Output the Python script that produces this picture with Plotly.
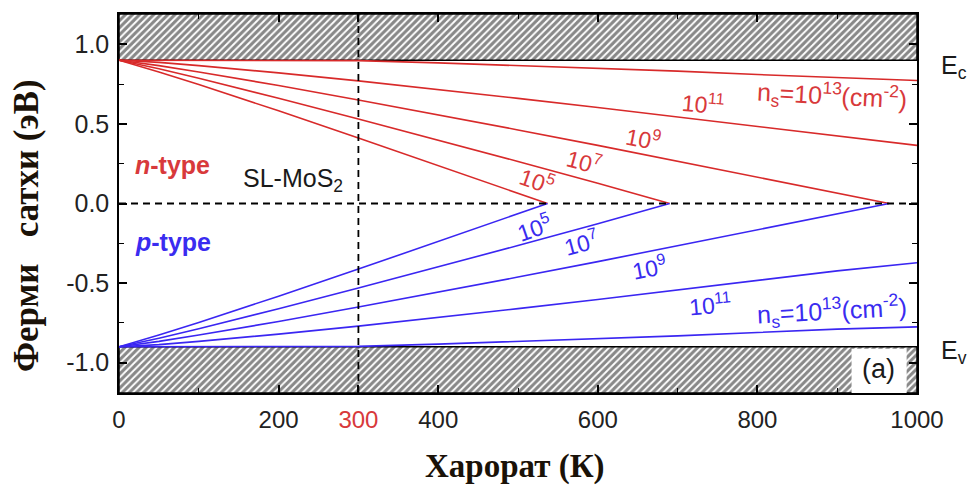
import plotly.graph_objects as go

# ---------------- data ----------------
T_n5 = [0, 50, 100, 150, 200, 300, 400, 500, 537]
E_n5 = [0.9, 0.826, 0.747, 0.665, 0.582, 0.412, 0.24, 0.065, 0.0]
T_n7 = [0, 50, 100, 150, 200, 300, 400, 500, 600, 690]
E_n7 = [0.9, 0.846, 0.787, 0.725, 0.661, 0.531, 0.399, 0.264, 0.127, 0.0]
T_n9 = [0, 50, 100, 150, 200, 300, 400, 500, 600, 700, 800, 900, 965]
E_n9 = [0.9, 0.866, 0.826, 0.784, 0.741, 0.65, 0.557, 0.462, 0.365, 0.266, 0.167, 0.066, 0.0]
T_full = [0, 50, 100, 150, 200, 300, 400, 500, 600, 700, 800, 900, 1000]
E_n11 = [0.9, 0.886, 0.866, 0.844, 0.82, 0.77, 0.716, 0.66, 0.603, 0.544, 0.484, 0.423, 0.365]
E_n13 = [0.9, 0.9, 0.9, 0.9, 0.9, 0.897, 0.883, 0.867, 0.85, 0.831, 0.81, 0.789, 0.772]

T_p5 = [0, 50, 100, 150, 200, 300, 400, 500, 537]
E_p5 = [-0.9, -0.826, -0.747, -0.665, -0.582, -0.412, -0.24, -0.065, 0.0]
T_p7 = [0, 50, 100, 150, 200, 300, 400, 500, 600, 690]
E_p7 = [-0.9, -0.846, -0.787, -0.725, -0.661, -0.531, -0.399, -0.264, -0.127, 0.0]
T_p9 = [0, 50, 100, 150, 200, 300, 400, 500, 600, 700, 800, 900, 965]
E_p9 = [-0.9, -0.866, -0.826, -0.784, -0.741, -0.65, -0.557, -0.462, -0.365, -0.266, -0.167, -0.066, 0.0]
E_p11 = [-0.9, -0.886, -0.866, -0.844, -0.82, -0.77, -0.716, -0.66, -0.603, -0.544, -0.484, -0.423, -0.372]
E_p13 = [-0.9, -0.9, -0.9, -0.9, -0.9, -0.897, -0.883, -0.867, -0.85, -0.831, -0.81, -0.789, -0.775]

Ec = 0.9
Ev = -0.9
T_room = 300

x_tickvals = [0, 200, 300, 400, 600, 800, 1000]
x_ticktext = ["0", "200", "<span style='color:#d8393b'>300</span>", "400", "600", "800", "1000"]
y_tickvals = [1.0, 0.5, 0.0, -0.5, -1.0]
y_ticktext = ["1.0", "0.5", "0.0", "-0.5", "-1.0"]

XMIN, XMAX = 0, 1000
YMIN, YMAX = -1.19, 1.19

RED = "#d82a2a"
RED_T = "#d8393b"
BLUE = "#3a26f2"
BLUE_T = "#3a2cf0"
SANS = "Arial, Liberation Sans"
SERIF = "Liberation Serif, Times New Roman"

fig = go.Figure()

hatch = dict(shape="/", fgcolor="#111111", bgcolor="white", size=5, solidity=0.62)
# conduction band (hatched)
fig.add_trace(go.Scatter(x=[XMIN, XMAX, XMAX, XMIN, XMIN], y=[Ec, Ec, YMAX, YMAX, Ec],
                         fill="toself", fillpattern=hatch, fillcolor="white",
                         line=dict(color="black", width=1.5), mode="lines",
                         hoverinfo="skip", showlegend=False))
# valence band (hatched)
fig.add_trace(go.Scatter(x=[XMIN, XMAX, XMAX, XMIN, XMIN], y=[Ev, Ev, YMIN, YMIN, Ev],
                         fill="toself", fillpattern=hatch, fillcolor="white",
                         line=dict(color="black", width=1.5), mode="lines",
                         hoverinfo="skip", showlegend=False))

for tx, ey in [(T_n5, E_n5), (T_n7, E_n7), (T_n9, E_n9), (T_full, E_n11), (T_full, E_n13)]:
    fig.add_trace(go.Scatter(x=tx, y=ey, mode="lines", line=dict(color=RED, width=1.6),
                             showlegend=False, hoverinfo="skip"))
for tx, ey in [(T_p5, E_p5), (T_p7, E_p7), (T_p9, E_p9), (T_full, E_p11), (T_full, E_p13)]:
    fig.add_trace(go.Scatter(x=tx, y=ey, mode="lines", line=dict(color=BLUE, width=1.6),
                             showlegend=False, hoverinfo="skip"))

# dashed reference lines
fig.add_shape(type="line", x0=XMIN, x1=XMAX, y0=0, y1=0, xref="x", yref="y",
              line=dict(color="black", width=1.8, dash="7px,5px"), layer="above")
fig.add_shape(type="line", x0=T_room, x1=T_room, y0=YMIN, y1=YMAX, xref="x", yref="y",
              line=dict(color="black", width=1.8, dash="7px,5px"), layer="above")
# white box for (a)
fig.add_shape(type="rect", x0=918, x1=987, y0=YMIN, y1=Ev - 0.012, xref="x", yref="y",
              fillcolor="white", line=dict(width=0), layer="above")

ann = []
def A(x, y, text, color, size=20, angle=0, xanchor="center", **kw):
    d = dict(x=x, y=y, xref="x", yref="y", text=text, showarrow=False, textangle=angle,
             font=dict(family=SANS, size=size, color=color), xanchor=xanchor)
    d.update(kw)
    ann.append(d)

A(18, 0.24, "<b><i>n</i>-type</b>", RED_T, 25, xanchor="left")
A(18, -0.24, "<b><i>p</i>-type</b>", BLUE_T, 25, xanchor="left")
A(218, 0.15, "SL-MoS<sub>2</sub>", "#1a1a1a", 25)

A(524, 0.15, "10<sup>5</sup>", RED_T, 23, 19)
A(583, 0.27, "10<sup>7</sup>", RED_T, 23, 15)
A(657, 0.41, "10<sup>9</sup>", RED_T, 23, 11)
A(732, 0.63, "10<sup>11</sup>", RED_T, 23, 5)
A(893, 0.675, "n<sub>s</sub>=10<sup>13</sup>(cm<sup>-2</sup>)", RED_T, 25, 3)

A(521, -0.15, "10<sup>5</sup>", BLUE_T, 23, -19)
A(580, -0.244, "10<sup>7</sup>", BLUE_T, 23, -15)
A(665, -0.40, "10<sup>9</sup>", BLUE_T, 23, -11)
A(741, -0.63, "10<sup>11</sup>", BLUE_T, 23, -5)
A(893, -0.675, "n<sub>s</sub>=10<sup>13</sup>(cm<sup>-2</sup>)", BLUE_T, 25, -3)

A(952, -1.04, "(a)", "#1a1a1a", 27)

# band labels on the right
ann.append(dict(x=1.027, y=0.86, xref="paper", yref="y", text="E<sub>c</sub>", showarrow=False,
                xanchor="left", font=dict(family=SANS, size=25, color="#1a1a1a")))
ann.append(dict(x=1.027, y=-0.93, xref="paper", yref="y", text="E<sub>v</sub>", showarrow=False,
                xanchor="left", font=dict(family=SANS, size=25, color="#1a1a1a")))

# axis titles
ann.append(dict(x=0.496, y=-0.193, xref="paper", yref="paper", text="<b>Харорат (К)</b>",
                showarrow=False, xanchor="center", yanchor="middle",
                font=dict(family=SERIF, size=33, color="#1a1208")))
ann.append(dict(x=-0.115, y=0.441, xref="paper", yref="paper", text="<b>Ферми   сатхи (эВ)</b>",
                showarrow=False, textangle=-90, xanchor="center", yanchor="middle",
                font=dict(family=SERIF, size=35, color="#1a1208")))

fig.update_layout(
    width=972, height=486,
    margin=dict(l=119, r=55, t=14, b=93),
    paper_bgcolor="white", plot_bgcolor="white",
    annotations=ann, showlegend=False,
)
fig.update_xaxes(range=[XMIN, XMAX], tickvals=x_tickvals, ticktext=x_ticktext,
                 ticks="inside", ticklen=8, tickwidth=1.5, tickcolor="black",
                 minor=dict(dtick=100, ticks="inside", ticklen=5, tickcolor="black", tickwidth=1.2),
                 showline=True, linecolor="black", linewidth=1.5, mirror="ticks",
                 showgrid=False, zeroline=False, ticklabelstandoff=4,
                 tickfont=dict(family=SANS, size=24, color="#222"))
fig.update_yaxes(range=[YMIN, YMAX], tickvals=y_tickvals, ticktext=y_ticktext,
                 ticks="inside", ticklen=8, tickwidth=1.5, tickcolor="black",
                 minor=dict(tickvals=[0.75, 0.25, -0.25, -0.75], ticks="inside", ticklen=5,
                            tickcolor="black", tickwidth=1.2),
                 showline=True, linecolor="black", linewidth=1.5, mirror="ticks",
                 showgrid=False, zeroline=False, ticklabelstandoff=3,
                 tickfont=dict(family=SANS, size=25, color="#222"))

# remove the browser's default 8px page margin so the figure fills the window exactly
fig.write_html("out.html", config={"displayModeBar": False},
               post_script="document.body.style.margin='0';document.body.style.overflow='hidden';")
